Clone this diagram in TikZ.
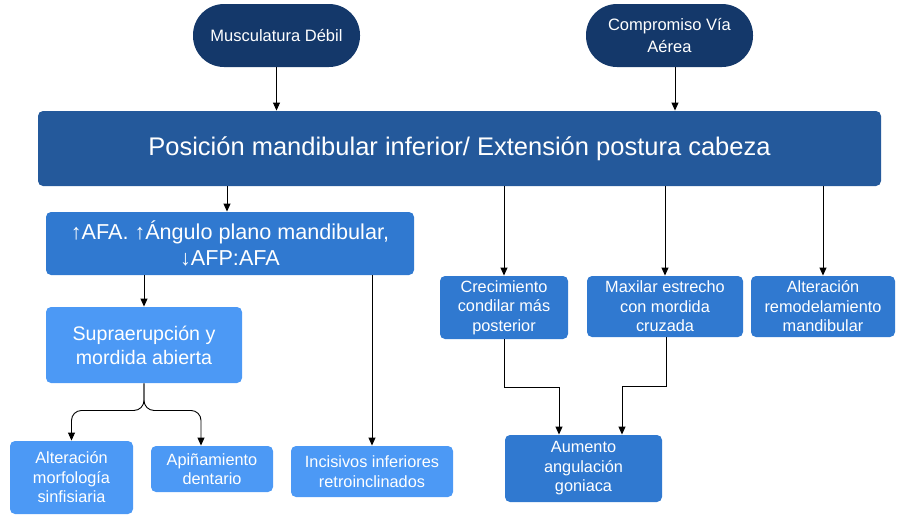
\documentclass[tikz,border=0pt]{standalone}
\usepackage{fontspec}
\setmainfont{Liberation Sans}
\usepackage{tikz}
\usetikzlibrary{arrows.meta}
\definecolor{navy}{RGB}{20,56,106}
\definecolor{barblue}{RGB}{36,89,155}
\definecolor{midblue}{RGB}{48,121,208}
\definecolor{lightblue}{RGB}{76,153,245}
\tikzset{>/.tip={Triangle[length=8pt,width=7pt]},
  oval/.style={fill=navy,text=white,rounded corners=31pt,align=center,
    font=\fontsize{16.5}{22}\selectfont},
  caja/.style={fill=midblue,text=white,rounded corners=5pt,align=center,
    font=\fontsize{16.3}{19.5}\selectfont},
  cajaclara/.style={caja,fill=lightblue}}

\begin{document}
\begin{tikzpicture}[x=1pt,y=1pt,line width=0.9pt]
\useasboundingbox (0,0) rectangle (903,-520);
\node[oval,minimum width=167,minimum height=63] (musc) at (276.5,-35.5) {Musculatura Débil};
\node[oval,minimum width=167,minimum height=63] (via) at (669.5,-35.5) {Compromiso Vía\\Aérea};
\node[caja,fill=barblue,minimum width=843,minimum height=75,font=\fontsize{25.5}{30}\selectfont] (pos) at (459.5,-148.5)
     {Posición mandibular inferior/ Extensión postura cabeza};
\node[caja,minimum width=368,minimum height=63,font=\fontsize{21.6}{26}\selectfont] (afa) at (230,-243.5)
     {↑AFA. ↑Ángulo plano mandibular,\\↓AFP:AFA};
\node[caja,minimum width=128,minimum height=63] (crec) at (504,-307.5) {Crecimiento\\condilar más\\posterior};
\node[caja,minimum width=156,minimum height=61] (maxi) at (665,-306.5) {Maxilar estrecho\\con mordida\\cruzada};
\node[caja,minimum width=144,minimum height=61] (remo) at (823,-306.5) {Alteración\\remodelamiento\\mandibular};
\node[cajaclara,minimum width=196,minimum height=76,font=\fontsize{19.6}{24}\selectfont] (supra) at (144,-345)
     {Supraerupción y\\mordida abierta};
\node[cajaclara,minimum width=162,minimum height=51] (inci) at (372,-471.5) {Incisivos inferiores\\retroinclinados};
\node[cajaclara,minimum width=123,minimum height=73] (morf) at (71.5,-477.5) {Alteración\\morfología\\sinfisiaria};
\node[cajaclara,minimum width=122,minimum height=46] (apin) at (212,-469) {Apiñamiento\\dentario};
\node[caja,minimum width=157,minimum height=67] (aum) at (583.5,-468.5) {Aumento\\angulación\\goniaca};

\coordinate (fork) at ([yshift=-27]supra.south);

\draw[->] (musc.south) -- (musc.south |- pos.north);
\draw[->] ([xshift=5.5]via.south) -- ([xshift=5.5]via.south |- pos.north);
\draw[->] ([xshift=-3]afa.north |- pos.south) -- ([xshift=-3]afa.north);
\draw[->] (crec.north |- pos.south) -- (crec.north);
\draw[->] (maxi.north |- pos.south) -- (maxi.north);
\draw[->] (remo.north |- pos.south) -- (remo.north);
\draw[->] (supra.north |- afa.south) -- (supra.north);
\draw[->] (inci.north |- afa.south) -- (inci.north);
\draw[->,rounded corners=10] (supra.south) -- (fork) -| (morf.north);
\draw[->,rounded corners=10] (supra.south) -- (fork) -| ([xshift=-11]apin.north);
\draw[->] (crec.south) -- ++(0,-48) -| ([xshift=-24.5]aum.north);
\draw[->] ([xshift=1]maxi.south) -- ++(0,-49) -| ([xshift=38.5]aum.north);
\end{tikzpicture}
\end{document}
